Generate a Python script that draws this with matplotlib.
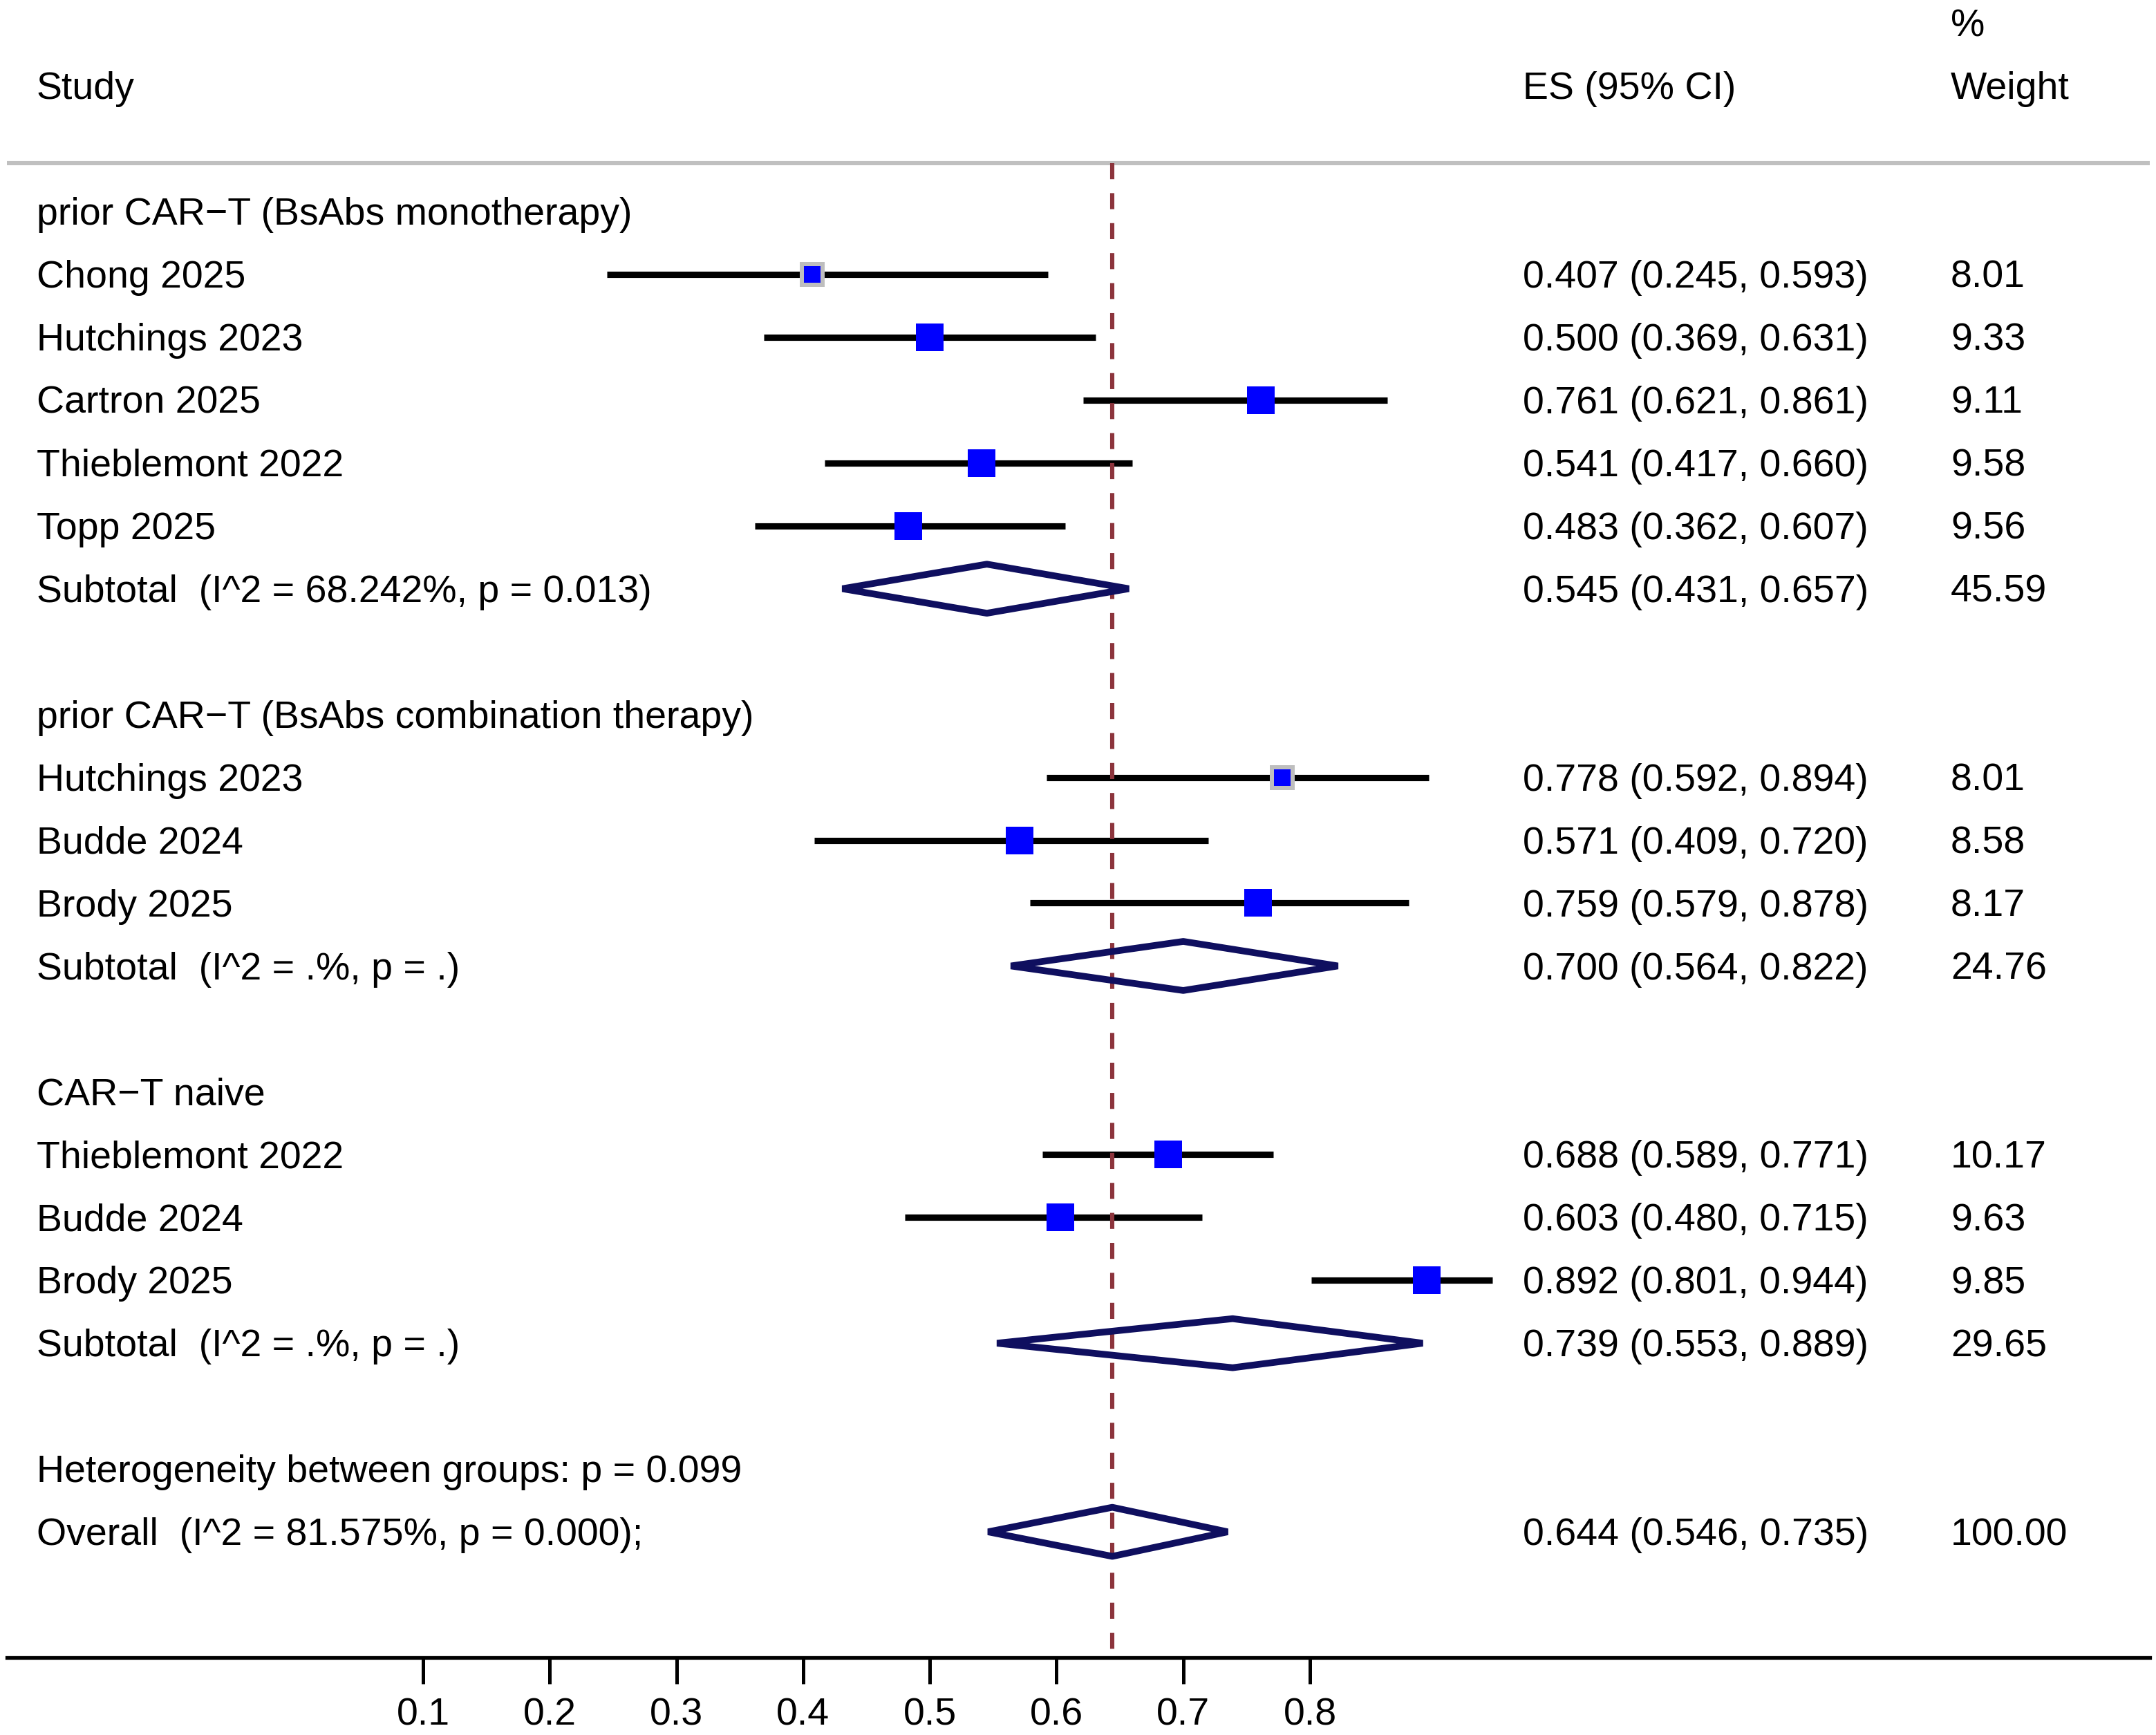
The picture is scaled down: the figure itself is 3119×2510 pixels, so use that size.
import matplotlib
matplotlib.use('Agg')
import matplotlib.pyplot as plt
from matplotlib.patches import Polygon
from matplotlib.transforms import blended_transform_factory

plt.rcParams['font.family'] = ['Liberation Sans', 'DejaVu Sans']

# ---------------- data ----------------
group_names = ["prior CAR\u2212T (BsAbs monotherapy)",
               "prior CAR\u2212T (BsAbs combination therapy)",
               "CAR\u2212T naive"]
studies = ["Chong 2025", "Hutchings 2023", "Cartron 2025", "Thieblemont 2022", "Topp 2025",
           "Hutchings 2023", "Budde 2024", "Brody 2025",
           "Thieblemont 2022", "Budde 2024", "Brody 2025"]
study_group = [0, 0, 0, 0, 0, 1, 1, 1, 2, 2, 2]
es = [0.407, 0.500, 0.761, 0.541, 0.483, 0.778, 0.571, 0.759, 0.688, 0.603, 0.892]
ci_lo = [0.245, 0.369, 0.621, 0.417, 0.362, 0.592, 0.409, 0.579, 0.589, 0.480, 0.801]
ci_hi = [0.593, 0.631, 0.861, 0.660, 0.607, 0.894, 0.720, 0.878, 0.771, 0.715, 0.944]
weight = [8.01, 9.33, 9.11, 9.58, 9.56, 8.01, 8.58, 8.17, 10.17, 9.63, 9.85]

sub_es = [0.545, 0.700, 0.739]
sub_lo = [0.431, 0.564, 0.553]
sub_hi = [0.657, 0.822, 0.889]
sub_weight = [45.59, 24.76, 29.65]
sub_het = ["I^2 = 68.242%, p = 0.013", "I^2 = .%, p = .", "I^2 = .%, p = ."]

overall_es, overall_lo, overall_hi, overall_weight = 0.644, 0.546, 0.735, 100.00
overall_het = "I^2 = 81.575%, p = 0.000"
between_p = "0.099"

ticks = [0.1, 0.2, 0.3, 0.4, 0.5, 0.6, 0.7, 0.8]

# ---------------- figure ----------------
W, H = 3119, 2510
fig = plt.figure(figsize=(W / 200, H / 200), dpi=200)
ax = fig.add_axes([10 / W, 112 / H, 3100 / W, 1 - 112 / H])
ax.set_xlim(-0.2284, 1.4628)
ax.set_ylim(23, -3.363)
for s in ['top', 'left', 'right']:
    ax.spines[s].set_visible(False)
ax.spines['bottom'].set_linewidth(1.9)
ax.set_yticks([])
ax.set_xticks(ticks)
ax.set_xticklabels(["%g" % t for t in ticks])
ax.tick_params(axis='x', direction='out', length=13.7, width=1.8, labelsize=20, pad=7)

tr = blended_transform_factory(ax.transAxes, ax.transData)
FS = 20
X_STUDY, X_ES, X_W = 0.0138, 0.7075, 0.9071
OFF = 0.21  # baseline below row centre


def row_text(y, left, mid=None, right=None):
    ax.text(X_STUDY, y + OFF, left, transform=tr, fontsize=FS, va='baseline', ha='left')
    if mid is not None:
        ax.text(X_ES, y + OFF, mid, transform=tr, fontsize=FS, va='baseline', ha='left')
    if right is not None:
        ax.text(X_W, y + OFF, right, transform=tr, fontsize=FS, va='baseline', ha='left')


def diamond(y, lo, mid, hi):
    h = 0.39
    ax.add_patch(Polygon([(lo, y), (mid, y - h), (hi, y), (mid, y + h)], closed=True,
                         facecolor='none', edgecolor='#0f0f5f', lw=3.5,
                         joinstyle='bevel', zorder=5))


# header
ax.text(X_W, -3 + OFF, "%", transform=tr, fontsize=FS, va='baseline')
row_text(-2, "Study", "ES (95% CI)", "Weight")
ax.axhline(-0.77, color='#c0c0c0', lw=2.2)

wmin = min(weight)
y = 0
for g, gname in enumerate(group_names):
    row_text(y, gname)
    y += 1
    for i in range(len(studies)):
        if study_group[i] != g:
            continue
        ax.plot([ci_lo[i], ci_hi[i]], [y, y], color='black', lw=3.3,
                solid_capstyle='butt', zorder=2)
        if weight[i] == wmin:
            ax.plot(es[i], y, 's', ms=13.3, color='#bebebe', mew=0, zorder=6)
            ax.plot(es[i], y, 's', ms=8.6, color='#0000ff', mew=0, zorder=7)
        else:
            ax.plot(es[i], y, 's', ms=14.2, color='#0000ff', mew=0, zorder=6)
        row_text(y, studies[i], "%.3f (%.3f, %.3f)" % (es[i], ci_lo[i], ci_hi[i]),
                 "%.2f" % weight[i])
        y += 1
    diamond(y, sub_lo[g], sub_es[g], sub_hi[g])
    row_text(y, "Subtotal  (%s)" % sub_het[g],
             "%.3f (%.3f, %.3f)" % (sub_es[g], sub_lo[g], sub_hi[g]),
             "%.2f" % sub_weight[g])
    y += 2

row_text(y, "Heterogeneity between groups: p = %s" % between_p)
y += 1
diamond(y, overall_lo, overall_es, overall_hi)
row_text(y, "Overall  (%s);" % overall_het,
         "%.3f (%.3f, %.3f)" % (overall_es, overall_lo, overall_hi),
         "%.2f" % overall_weight)

ax.plot([overall_es, overall_es], [-0.77, 23], color='#8c343c', lw=2.2,
        dashes=(3.8, 3.3), zorder=3)

fig.savefig('out.png', dpi=200)
